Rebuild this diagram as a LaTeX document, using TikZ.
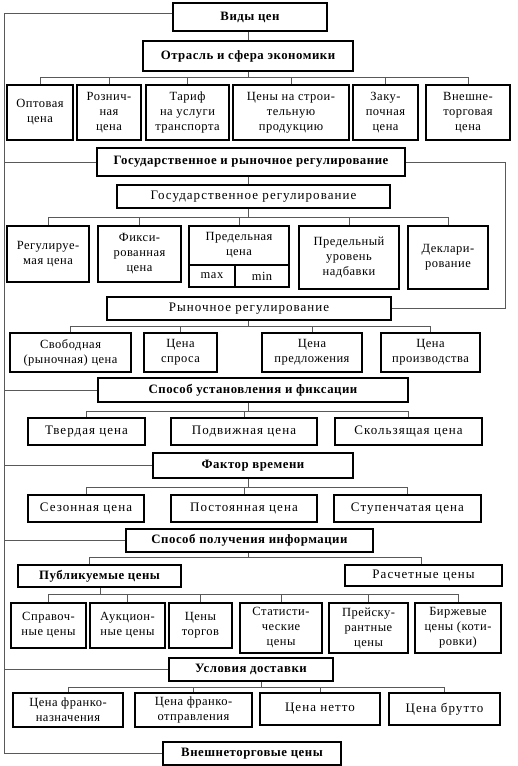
\documentclass[tikz,border=0pt]{standalone}
\usepackage{fontspec}
\setmainfont{Liberation Serif}[LetterSpace=4]
\newfontfamily\widefont{Liberation Serif}[LetterSpace=8]
\tikzset{
  box/.style={draw, line width=1.4pt, inner sep=1pt, align=center,
    font=\fontsize{12.5}{15}\selectfont},
  hbox/.style={box, font=\fontsize{12.8}{14}\selectfont\bfseries},
  wbox/.style={box, font=\widefont\fontsize{13}{14}\selectfont},
  conn/.style={draw=black!65, line width=0.5pt},
}
\newcommand\bx[7][]{%
  \node[box,#1,minimum width={#5-#3},minimum height={#6-#4}] (#2)
    at ({(#3+#5)/2},{(#4+#6)/2}) {#7};}
\begin{document}
\begin{tikzpicture}[x=1pt,y=-1pt]
\useasboundingbox (0,0) rectangle (517,766);
% level headers
\bx[hbox]{vid}{173}{3}{327}{31}{Виды цен}
\bx[hbox]{otr}{143}{41}{353}{71}{Отрасль и сфера экономики}
\bx{opt}{7}{85}{73}{140}{Оптовая\\цена}
\bx{rozn}{77}{85}{141}{140}{Рознич-\\ная\\цена}
\bx{tarif}{146}{85}{229}{140}{Тариф\\на услуги\\транспорта}
\bx{stroi}{233}{85}{349}{140}{Цены на строи-\\тельную\\продукцию}
\bx{zakup}{353}{85}{418}{140}{Заку-\\почная\\цена}
\bx{vnesh}{426}{85}{510}{140}{Внешне-\\торговая\\цена}

\bx[hbox]{gr}{97}{148}{405}{176}{Государственное и рыночное регулирование}
\bx[wbox]{gos}{117}{185}{390}{208}{Государственное регулирование}
\bx{reg}{7}{226}{89}{282}{Регулируе-\\мая цена}
\bx{fix}{98}{226}{181}{282}{Фикси-\\рованная\\цена}
\bx{pred}{189}{226}{289}{265}{Предельная\\цена}
\bx{pmax}{189}{265}{235}{287}{max}
\bx{pmin}{235}{265}{289}{287}{min}
\bx{urov}{299}{226}{399}{289}{Предельный\\уровень\\надбавки}
\bx{dekl}{408}{226}{488}{289}{Деклари-\\рование}

\bx[wbox]{ryn}{107}{297}{391}{320}{Рыночное регулирование}
\bx{svob}{10}{333}{131}{372}{Свободная\\(рыночная) цена}
\bx{spros}{144}{333}{217}{372}{Цена\\спроса}
\bx{predl}{262}{333}{362}{372}{Цена\\предложения}
\bx{proizv}{381}{333}{480}{372}{Цена\\производства}

\bx[hbox]{spu}{98}{378}{408}{402}{Способ установления и фиксации}
\bx[wbox]{tverd}{28}{418}{145}{445}{Твердая цена}
\bx[wbox]{podv}{171}{418}{317}{445}{Подвижная цена}
\bx[wbox]{skolz}{335}{418}{482}{445}{Скользящая цена}

\bx[hbox]{fak}{153}{453}{353}{478}{Фактор времени}
\bx[wbox]{sez}{28}{495}{144}{522}{Сезонная цена}
\bx[wbox]{post}{171}{495}{317}{522}{Постоянная цена}
\bx[wbox]{stup}{334}{495}{481}{522}{Ступенчатая цена}

\bx[hbox]{spi}{126}{529}{373}{552}{Способ получения информации}
\bx[hbox]{pub}{18}{565}{181}{587}{Публикуемые цены}
\bx[wbox]{ras}{345}{565}{502}{586}{Расчетные цены}
\bx{sprav}{11}{603}{86}{648}{Справоч-\\ные цены}
\bx{auk}{90}{603}{165}{648}{Аукцион-\\ные цены}
\bx{torg}{169}{603}{232}{648}{Цены\\торгов}
\bx{stat}{240}{603}{322}{653}{Статисти-\\ческие\\цены}
\bx{preisk}{329}{603}{408}{653}{Прейску-\\рантные\\цены}
\bx{birzh}{415}{603}{501}{653}{Биржевые\\цены (коти-\\ровки)}

\bx[hbox]{usl}{169}{658}{333}{681}{Условия доставки}
\bx{fnaz}{13}{693}{123}{727}{Цена франко-\\назначения}
\bx{fotp}{135}{693}{252}{727}{Цена франко-\\отправления}
\bx[wbox]{netto}{260}{693}{380}{725}{Цена нетто}
\bx[wbox]{brutto}{389}{693}{500}{725}{Цена брутто}

\bx[hbox]{vnt}{163}{742}{341}{765}{Внешнеторговые цены}

% connectors
\coordinate (L) at (4,0);
\draw[conn] ([yshift=4pt]vid.west) -- ([yshift=4pt]vid.west -| L) -- (vnt.west -| L) -- (vnt.west);
\foreach \n in {gr,spu,fak,spi,usl} \draw[conn] (\n.west) -- (\n.west -| L);

\coordinate (b1) at (248,77);
\draw[conn] (otr.north -| b1) -- (vid.south -| b1);
\draw[conn] (otr.south -| b1) -- (b1);
\foreach \n in {opt,rozn,tarif,stroi,zakup,vnesh} \draw[conn] (\n.north) |- (b1);

\coordinate (b2) at (248,217);
\draw[conn] (gr.south -| b2) -- (gos.north -| b2);
\draw[conn] (gos.south -| b2) -- (b2);
\foreach \n in {reg,fix,pred,urov,dekl} \draw[conn] (\n.north) |- (b2);
\draw[conn] (gr.east) -- ++(100,0) |- (ryn.east);

\coordinate (b3) at (248,326);
\draw[conn] (ryn.south -| b3) -- (b3);
\foreach \n in {svob,spros,predl,proizv} \draw[conn] (\n.north) |- (b3);

\coordinate (b4) at (248,411);
\draw[conn] (spu.south -| b4) -- (b4);
\foreach \n in {tverd,podv,skolz} \draw[conn] (\n.north) |- (b4);

\coordinate (b5) at (248,487);
\draw[conn] (fak.south -| b5) -- (b5);
\foreach \n in {sez,post,stup} \draw[conn] (\n.north) |- (b5);

\coordinate (b6) at (248,557);
\draw[conn] (spi.south -| b6) -- (b6);
\draw[conn] ([xshift=-10pt]pub.north) |- (b6);
\draw[conn] ([xshift=-2pt]ras.north) |- (b6);

\coordinate (b7) at (100,594);
\draw[conn] (pub.south -| b7) -- (b7);
\foreach \n in {sprav,auk,torg,stat,preisk,birzh} \draw[conn] (\n.north) |- (b7);

\coordinate (b8) at (261,687);
\draw[conn] (usl.south -| b8) -- (b8);
\foreach \n in {fnaz,fotp,netto,brutto} \draw[conn] (\n.north) |- (b8);
\end{tikzpicture}
\end{document}
